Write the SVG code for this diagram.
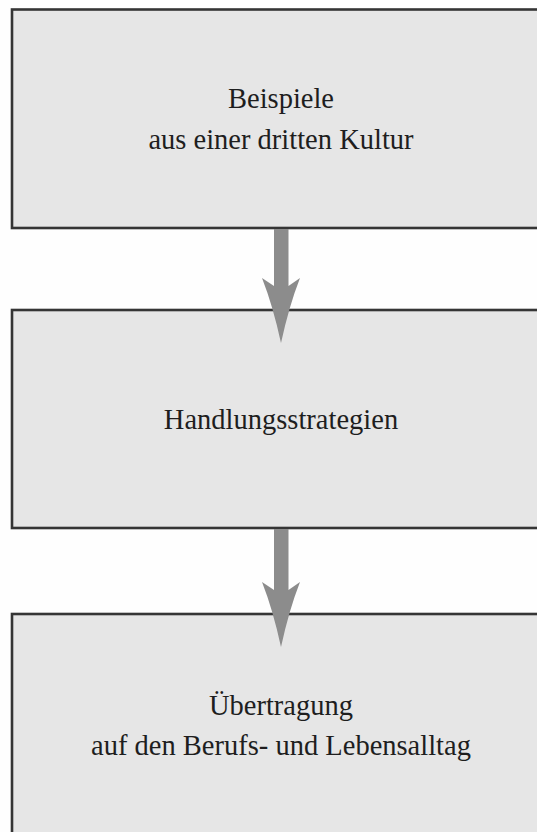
<svg xmlns="http://www.w3.org/2000/svg" width="537" height="832" viewBox="0 0 537 832">
<style>
.box{fill:#e6e6e6;stroke:#353535;stroke-width:2.6}
.lbl{font-family:"Liberation Serif","Times New Roman",serif;font-size:28.5px;fill:#1e1e1e;text-anchor:middle}
.arr{fill:#8c8c8c;stroke:none}
</style>
<rect width="537" height="832" fill="#fefefe"/>
<g id="node1">
<rect class="box" x="12" y="9.5" width="560" height="218.5"/>
<text class="lbl" x="281" y="108">Beispiele</text>
<text class="lbl" x="281" y="149">aus einer dritten Kultur</text>
</g>
<g id="node2">
<rect class="box" x="12" y="310" width="560" height="218"/>
<text class="lbl" x="281" y="429">Handlungsstrategien</text>
</g>
<g id="node3">
<rect class="box" x="12" y="614" width="560" height="240"/>
<text class="lbl" x="281" y="715">Übertragung</text>
<text class="lbl" x="281" y="755">auf den Berufs- und Lebensalltag</text>
</g>
<g id="connectors">
<path class="arr" d="M274,229 L288.5,229 L288.5,286 L300,278 Q289,306 281,343 Q273,306 262,278 L274,286 Z"/>
<path class="arr" d="M274,529 L288.5,529 L288.5,590 L300,582 Q289,610 281,647 Q273,610 262,582 L274,590 Z"/>
</g>
</svg>
